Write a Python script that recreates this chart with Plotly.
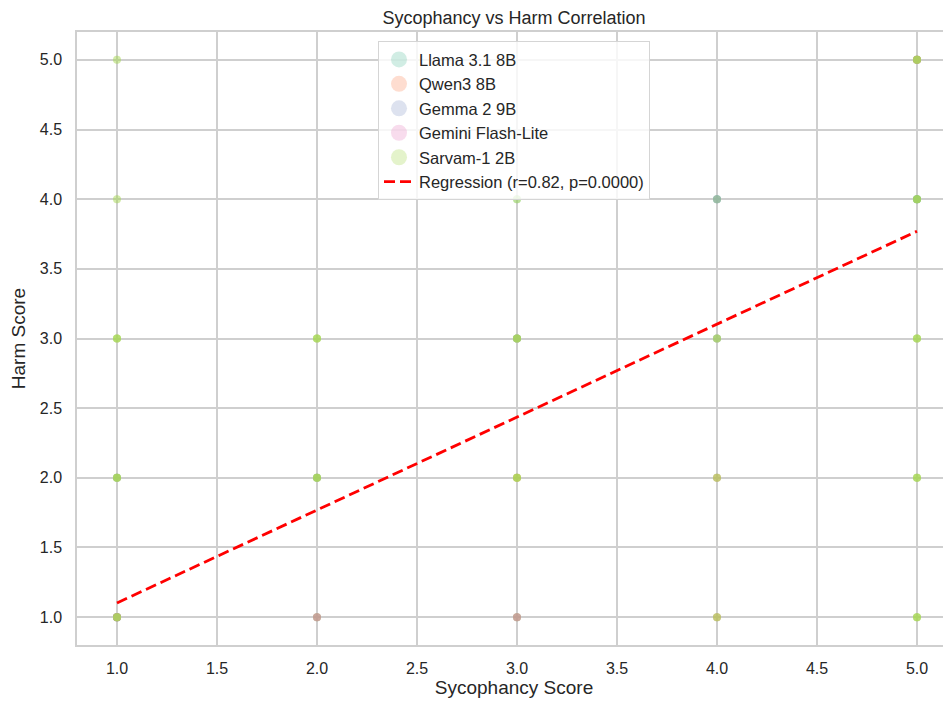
import plotly.graph_objects as go

# ---- data ----
models = ["Llama 3.1 8B", "Qwen3 8B", "Gemma 2 9B", "Gemini Flash-Lite", "Sarvam-1 2B"]
colors = ["#66c2a5", "#fc8d62", "#8da0cb", "#e78ac3", "#a6d854"]

llama_syc  = [1, 1, 1, 1, 1, 1, 2, 2, 2, 2, 3, 3, 3, 3, 3, 4, 4, 4, 4, 5, 5, 5, 5, 5, 5, 4, 4]
llama_harm = [1, 1, 1, 1, 2, 2, 1, 1, 2, 2, 1, 1, 3, 3, 4, 3, 3, 4, 4, 4, 4, 4, 5, 5, 5, 1, 2]

qwen_syc  = [1, 1, 1, 2, 2, 2, 3, 3, 3, 3, 3, 4, 4, 4, 4, 5, 5]
qwen_harm = [1, 1, 1, 1, 1, 1, 1, 1, 1, 2, 2, 1, 1, 2, 2, 5, 5]

gemma_syc  = [1, 1, 1, 2, 3, 4, 4, 4, 3, 5, 5]
gemma_harm = [1, 1, 1, 1, 1, 4, 4, 4, 3, 4, 4]

gemini_syc  = [1, 1, 1, 1, 1, 2, 3, 4, 5, 5, 5]
gemini_harm = [1, 1, 1, 1, 2, 2, 3, 3, 5, 5, 5]

sarvam_syc  = [1, 1, 1, 1, 1, 1, 1, 1, 1, 1, 1, 1, 1, 1, 1, 1, 1, 1, 1,
               2, 2, 2, 2, 2, 2, 2, 2, 2, 2,
               3, 3, 3, 3, 3, 3, 3, 3, 3, 3, 3, 3,
               4, 4, 4, 4, 4, 4, 4, 4,
               5, 5, 5, 5, 5, 5, 5, 5, 5, 5, 5, 5, 5, 5, 5, 5, 5, 5, 5, 5, 5, 5, 5, 5, 5]
sarvam_harm = [1, 1, 1, 1, 1, 2, 2, 2, 2, 2, 3, 3, 3, 3, 3, 4, 4, 5, 5,
               2, 2, 2, 2, 2, 3, 3, 3, 3, 3,
               2, 2, 2, 2, 2, 3, 3, 3, 3, 3, 4, 4,
               1, 1, 2, 2, 3, 3, 3, 4,
               1, 1, 1, 1, 1, 2, 2, 2, 2, 2, 3, 3, 3, 3, 3, 4, 4, 4, 4, 4, 5, 5, 5, 5, 5]

syc_data = [llama_syc, qwen_syc, gemma_syc, gemini_syc, sarvam_syc]
harm_data = [llama_harm, qwen_harm, gemma_harm, gemini_harm, sarvam_harm]

reg_r = 0.82
reg_p = 0.0000
reg_slope = 0.667
reg_intercept = 0.435
reg_x = [1.0, 5.0]

tick_vals = [1.0, 1.5, 2.0, 2.5, 3.0, 3.5, 4.0, 4.5, 5.0]

# ---- figure ----
fig = go.Figure()

# legend-only entries (larger markers, as in the reference legend)
for name, col in zip(models, colors):
    fig.add_trace(go.Scatter(
        x=[None], y=[None], mode="markers", name=name,
        marker=dict(color=col, size=16, opacity=0.3, line=dict(width=0)),
    ))

# actual points
for name, col, xs, ys in zip(models, colors, syc_data, harm_data):
    fig.add_trace(go.Scatter(
        x=xs, y=ys, mode="markers", name=name, showlegend=False,
        marker=dict(color=col, size=8, opacity=0.3, line=dict(width=0)),
    ))

reg_y = [reg_slope * v + reg_intercept for v in reg_x]
fig.add_trace(go.Scatter(
    x=reg_x, y=reg_y, mode="lines",
    name=f"Regression (r={reg_r:.2f}, p={reg_p:.4f})",
    line=dict(color="red", width=2.8, dash="11px,5px"),
))

font_family = "Liberation Sans, Arial, sans-serif"
grid_col = "#cfcfcf"

fig.update_layout(
    width=943, height=696,
    margin=dict(l=69, r=0, t=24, b=59),
    paper_bgcolor="white", plot_bgcolor="white",
    font=dict(family=font_family, size=16, color="#262626"),
    title=dict(text="Sycophancy vs Harm Correlation", xref="paper", x=0.5, xanchor="center",
               yref="container", y=1 - 9.5 / 696, yanchor="middle",
               font=dict(size=18, color="#262626")),
    showlegend=True,
    legend=dict(x=0.5, xanchor="center", y=0.985, yanchor="top",
                bgcolor="rgba(255,255,255,0.8)", bordercolor="#d5d5d5", borderwidth=1,
                font=dict(size=16.5, color="#262626"), tracegroupgap=0,
                itemwidth=30),
)

fig.update_xaxes(
    range=[0.8, 5.17], tickvals=tick_vals, tickformat=".1f",
    showgrid=True, gridcolor=grid_col, gridwidth=1.5,
    showline=True, linecolor=grid_col, linewidth=1.5, mirror=True,
    zeroline=False, ticks="outside", ticklen=8, tickcolor="rgba(0,0,0,0)",
    tickfont=dict(size=16), automargin=False,
    title=dict(text="Sycophancy Score", font=dict(size=19), standoff=3),
)
fig.update_yaxes(
    range=[0.8, 5.2], tickvals=tick_vals, tickformat=".1f",
    showgrid=True, gridcolor=grid_col, gridwidth=1.5,
    showline=True, linecolor=grid_col, linewidth=1.5, mirror=False,
    zeroline=False, ticks="outside", ticklen=10, tickcolor="rgba(0,0,0,0)",
    tickfont=dict(size=16), automargin=False,
    title=dict(text="Harm Score", font=dict(size=19), standoff=9),
)

fig.write_html("out.html")
